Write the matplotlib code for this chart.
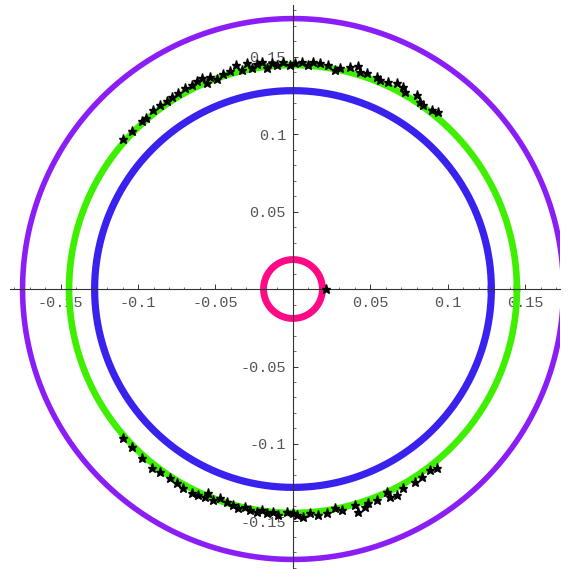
import numpy as np
import matplotlib
matplotlib.use('Agg')
from matplotlib import pyplot as plt
from matplotlib.ticker import MultipleLocator, FixedLocator, FuncFormatter

# circle radii
r_purple = 0.1745
r_green = 0.1445
r_blue = 0.128
r_pink = 0.019

# star samples
star_x_top = [-0.1099, -0.1041, -0.0976, -0.0948, -0.0905, -0.0858, -0.0815, -0.0783,
              -0.0740, -0.0697, -0.0654, -0.0617, -0.0589, -0.0553, -0.0535, -0.0492,
              -0.0450, -0.0406, -0.0368, -0.0331, -0.0299, -0.0266, -0.0234, -0.0202,
              -0.0170, -0.0137, -0.0105, -0.0063, -0.0019, 0.0013, 0.0056, 0.0099,
              0.0131, 0.0174, 0.0228, 0.0271, 0.0303, 0.0368, 0.0421, 0.0432,
              0.0475, 0.0540, 0.0561, 0.0615, 0.0669, 0.0712, 0.0723, 0.0798,
              0.0819, 0.0841, 0.0895, 0.0937]
star_y_top = [0.0966, 0.1019, 0.1086, 0.1105, 0.1155, 0.1187, 0.1215, 0.1237,
              0.1263, 0.1295, 0.1316, 0.1344, 0.1359, 0.1331, 0.1370, 0.1353,
              0.1387, 0.1408, 0.1445, 0.1413, 0.1456, 0.1424, 0.1452, 0.1466,
              0.1424, 0.1456, 0.1445, 0.1466, 0.1445, 0.1456, 0.1466, 0.1445,
              0.1466, 0.1456, 0.1445, 0.1413, 0.1424, 0.1434, 0.1439, 0.1402,
              0.1392, 0.1370, 0.1348, 0.1337, 0.1327, 0.1305, 0.1273, 0.1252,
              0.1208, 0.1187, 0.1155, 0.1144]
star_x_bot = [-0.1099, -0.1041, -0.0976, -0.0912, -0.0858, -0.0794, -0.0750, -0.0708,
              -0.0654, -0.0611, -0.0568, -0.0546, -0.0514, -0.0471, -0.0428, -0.0385,
              -0.0353, -0.0310, -0.0277, -0.0234, -0.0202, -0.0170, -0.0127, -0.0095,
              -0.0041, 0.0002, 0.0024, 0.0066, 0.0110, 0.0163, 0.0217, 0.0271,
              0.0314, 0.0400, 0.0421, 0.0465, 0.0486, 0.0540, 0.0605, 0.0626,
              0.0669, 0.0712, 0.0787, 0.0830, 0.0884, 0.0927]
star_y_bot = [-0.0963, -0.1017, -0.1092, -0.1157, -0.1179, -0.1221, -0.1254, -0.1286,
              -0.1318, -0.1329, -0.1340, -0.1318, -0.1361, -0.1350, -0.1372, -0.1394,
              -0.1415, -0.1405, -0.1426, -0.1437, -0.1426, -0.1447, -0.1437, -0.1458,
              -0.1437, -0.1447, -0.1458, -0.1469, -0.1447, -0.1458, -0.1447, -0.1415,
              -0.1426, -0.1394, -0.1437, -0.1405, -0.1383, -0.1361, -0.1308, -0.1340,
              -0.1329, -0.1286, -0.1243, -0.1211, -0.1168, -0.1157]
star_x_axis = [0.0213]
star_y_axis = [0.0]

tick_values = [-0.15, -0.1, -0.05, 0.05, 0.1, 0.15]

fig = plt.figure(figsize=(5.69, 5.69), dpi=100)
ax = fig.add_axes([10 / 569, 0, 550 / 569, 564 / 569])
ax.set_xlim(-0.1826, 0.1723)
ax.set_ylim(-0.1806, 0.1832)
ax.set_aspect('equal')

t = np.linspace(0, 2 * np.pi, 721)
ax.plot(r_purple * np.cos(t), r_purple * np.sin(t), color='#8b1ef6', lw=4.0, zorder=2)
ax.plot(r_green * np.cos(t), r_green * np.sin(t), color='#3ef000', lw=4.8, zorder=2)
ax.plot(r_blue * np.cos(t), r_blue * np.sin(t), color='#3a22ee', lw=5.2, zorder=2)
ax.plot(r_pink * np.cos(t), r_pink * np.sin(t), color='#ff0a84', lw=5.0, zorder=2)

ax.plot(star_x_top, star_y_top, '*', color='black', ms=6.5, zorder=3)
ax.plot(star_x_bot, star_y_bot, '*', color='black', ms=6.5, zorder=3)
ax.plot(star_x_axis, star_y_axis, '*', color='black', ms=6.5, zorder=3)

# Mathematica-like axes through the origin
ax.spines['left'].set_position('zero')
ax.spines['bottom'].set_position('zero')
ax.spines['top'].set_visible(False)
ax.spines['right'].set_visible(False)
for s in ('left', 'bottom'):
    ax.spines[s].set_color('#333333')
    ax.spines[s].set_linewidth(0.8)
ax.set_axisbelow(True)

fmt = FuncFormatter(lambda v, p: ('%g' % v))
for axis in (ax.xaxis, ax.yaxis):
    axis.set_major_locator(FixedLocator(tick_values))
    axis.set_minor_locator(MultipleLocator(0.01))
    axis.set_major_formatter(fmt)
ax.tick_params(which='major', direction='in', length=3.5, width=0.7, color='#333333',
               labelsize=11, labelcolor='#555555', pad=5)
ax.tick_params(which='minor', direction='in', length=1.8, width=0.5, color='#333333')
for lab in ax.get_xticklabels() + ax.get_yticklabels():
    lab.set_family('Liberation Mono')

fig.savefig('out.png', dpi=100)
